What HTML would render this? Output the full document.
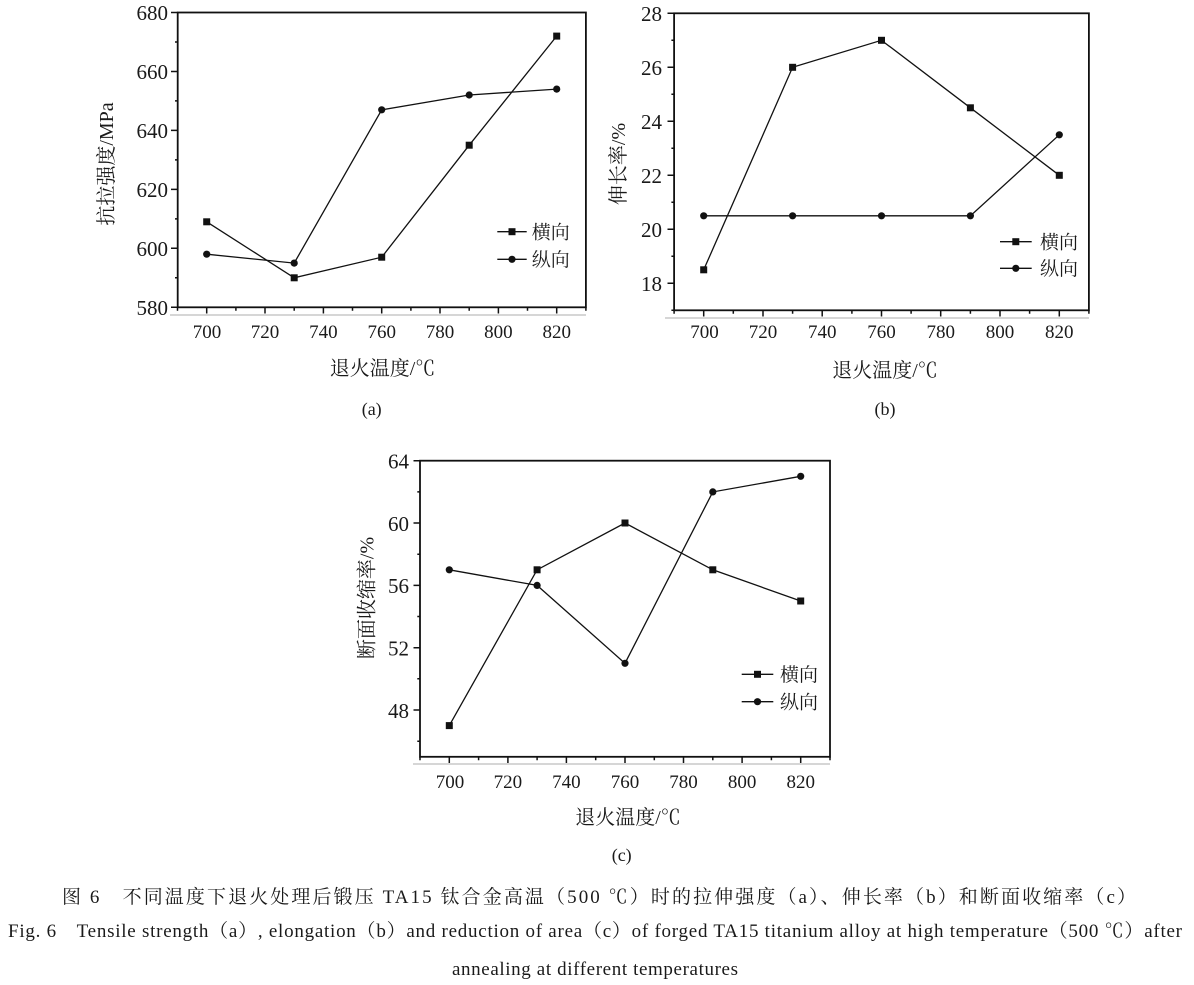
<!DOCTYPE html>
<html><head><meta charset="utf-8">
<style>
html,body{margin:0;padding:0;background:#fff;}
svg{display:block;}
.t{font-family:"Liberation Serif","Noto Serif CJK SC",serif;fill:#1a1a1a;}
.c{font-family:"Liberation Serif","Noto Serif CJK SC",serif;fill:#1a1a1a;}
.ax{fill:none;stroke:#111;stroke-width:1.8;}
.tk{stroke:#111;stroke-width:1.5;}
.ln{fill:none;stroke:#111;stroke-width:1.3;}
.gr{stroke:#bdbdbd;stroke-width:1.2;}
</style></head>
<body>
<svg width="1194" height="985" viewBox="0 0 1194 985" xmlns="http://www.w3.org/2000/svg">
<rect width="1194" height="985" fill="#fff"/>

<!-- ================= PANEL A ================= -->
<line class="gr" x1="170" y1="315" x2="586" y2="315"/>
<rect class="ax" x="177.7" y="12.5" width="408.2" height="294.8"/>
<g class="tk">
<path d="M171 12.5H177.7M171 71.5H177.7M171 130.4H177.7M171 189.4H177.7M171 248.3H177.7M171 307.3H177.7"/>
<path d="M175 42H177.7M175 100.9H177.7M175 159.9H177.7M175 218.9H177.7M175 277.8H177.7"/>
<path d="M206.7 307.3V313.5M265 307.3V313.5M323.4 307.3V313.5M381.7 307.3V313.5M440 307.3V313.5M498.4 307.3V313.5M556.7 307.3V313.5"/>
<path d="M177.5 307.3V310.8M235.9 307.3V310.8M294.2 307.3V310.8M352.5 307.3V310.8M410.9 307.3V310.8M469.2 307.3V310.8M527.5 307.3V310.8M585.9 307.3V310.8"/>
</g>
<g class="t" font-size="21" text-anchor="end">
<text x="168" y="20">680</text>
<text x="168" y="79">660</text>
<text x="168" y="138">640</text>
<text x="168" y="197">620</text>
<text x="168" y="256">600</text>
<text x="168" y="315">580</text>
</g>
<g class="t" font-size="19" text-anchor="middle">
<text x="207" y="338">700</text>
<text x="265" y="338">720</text>
<text x="323.4" y="338">740</text>
<text x="381.7" y="338">760</text>
<text x="440" y="338">780</text>
<text x="498.4" y="338">800</text>
<text x="556.7" y="338">820</text>
</g>
<polyline class="ln" points="206.7,221.8 294.2,277.8 381.7,257.2 469.2,145.2 556.7,36.1"/>
<polyline class="ln" points="206.7,254.2 294.2,263.1 381.7,109.8 469.2,95 556.7,89.1"/>
<g fill="#111">
<rect x="203.2" y="218.3" width="7" height="7"/><rect x="290.7" y="274.3" width="7" height="7"/><rect x="378.2" y="253.7" width="7" height="7"/><rect x="465.7" y="141.7" width="7" height="7"/><rect x="553.2" y="32.6" width="7" height="7"/>
<circle cx="206.7" cy="254.2" r="3.6"/><circle cx="294.2" cy="263.1" r="3.6"/><circle cx="381.7" cy="109.8" r="3.6"/><circle cx="469.2" cy="95" r="3.6"/><circle cx="556.7" cy="89.1" r="3.6"/>
</g>
<!-- legend a -->
<line class="ln" x1="497.3" y1="231.7" x2="526.7" y2="231.7"/>
<rect x="508.5" y="228.2" width="7" height="7" fill="#111"/>
<line class="ln" x1="497.3" y1="259.3" x2="526.7" y2="259.3"/>
<circle cx="512" cy="259.3" r="3.6" fill="#111"/>
<text class="t" font-size="19" x="531.7" y="238.5">横向</text>
<text class="t" font-size="19" x="531.7" y="266">纵向</text>
<text class="t" font-size="20" transform="translate(113,164) rotate(-90)" text-anchor="middle">抗拉强度/MPa</text>
<text class="t" font-size="20" x="382.5" y="375" text-anchor="middle">退火温度/℃</text>
<text class="t" font-size="18" x="371.7" y="415" text-anchor="middle">(a)</text>

<!-- ================= PANEL B ================= -->
<line class="gr" x1="665" y1="318" x2="1089" y2="318"/>
<rect class="ax" x="674.1" y="13.3" width="414.8" height="297"/>
<g class="tk">
<path d="M667.5 13.3H674.1M667.5 67.3H674.1M667.5 121.3H674.1M667.5 175.3H674.1M667.5 229.3H674.1M667.5 283.3H674.1"/>
<path d="M671.4 40.3H674.1M671.4 94.3H674.1M671.4 148.3H674.1M671.4 202.3H674.1M671.4 256.3H674.1M671.4 310.3H674.1"/>
<path d="M703.7 310.3V316.5M763 310.3V316.5M822.2 310.3V316.5M881.5 310.3V316.5M940.7 310.3V316.5M1000 310.3V316.5M1059.3 310.3V316.5"/>
<path d="M674.1 310.3V313.8M733.3 310.3V313.8M792.6 310.3V313.8M851.9 310.3V313.8M911.1 310.3V313.8M970.4 310.3V313.8M1029.6 310.3V313.8M1088.9 310.3V313.8"/>
</g>
<g class="t" font-size="21" text-anchor="end">
<text x="662" y="21">28</text>
<text x="662" y="75">26</text>
<text x="662" y="129">24</text>
<text x="662" y="183">22</text>
<text x="662" y="237">20</text>
<text x="662" y="291">18</text>
</g>
<g class="t" font-size="19" text-anchor="middle">
<text x="704.5" y="338">700</text>
<text x="763" y="338">720</text>
<text x="822.2" y="338">740</text>
<text x="881.5" y="338">760</text>
<text x="940.7" y="338">780</text>
<text x="1000" y="338">800</text>
<text x="1059.3" y="338">820</text>
</g>
<polyline class="ln" points="703.7,269.8 792.6,67.3 881.5,40.3 970.4,107.8 1059.3,175.3"/>
<polyline class="ln" points="703.7,215.8 792.6,215.8 881.5,215.8 970.4,215.8 1059.3,134.8"/>
<g fill="#111">
<rect x="700.2" y="266.3" width="7" height="7"/><rect x="789.1" y="63.8" width="7" height="7"/><rect x="878" y="36.8" width="7" height="7"/><rect x="966.9" y="104.3" width="7" height="7"/><rect x="1055.8" y="171.8" width="7" height="7"/>
<circle cx="703.7" cy="215.8" r="3.6"/><circle cx="792.6" cy="215.8" r="3.6"/><circle cx="881.5" cy="215.8" r="3.6"/><circle cx="970.4" cy="215.8" r="3.6"/><circle cx="1059.3" cy="134.8" r="3.6"/>
</g>
<line class="ln" x1="1000" y1="241.7" x2="1031.7" y2="241.7"/>
<rect x="1012.3" y="238.2" width="7" height="7" fill="#111"/>
<line class="ln" x1="1000" y1="268.3" x2="1031.7" y2="268.3"/>
<circle cx="1015.8" cy="268.3" r="3.6" fill="#111"/>
<text class="t" font-size="19" x="1040" y="248.5">横向</text>
<text class="t" font-size="19" x="1040" y="275">纵向</text>
<text class="t" font-size="20" transform="translate(625,164) rotate(-90)" text-anchor="middle">伸长率/%</text>
<text class="t" font-size="20" x="885" y="377" text-anchor="middle">退火温度/℃</text>
<text class="t" font-size="18" x="885" y="415" text-anchor="middle">(b)</text>

<!-- ================= PANEL C ================= -->
<line class="gr" x1="413" y1="764" x2="830" y2="764"/>
<rect class="ax" x="420" y="460.7" width="410" height="296.1"/>
<g class="tk">
<path d="M413.5 460.7H420M413.5 523H420M413.5 585.4H420M413.5 647.7H420M413.5 710H420"/>
<path d="M417.3 491.9H420M417.3 554.2H420M417.3 616.5H420M417.3 678.8H420M417.3 741.2H420"/>
<path d="M449.3 756.8V763M507.9 756.8V763M566.4 756.8V763M625 756.8V763M683.5 756.8V763M742.1 756.8V763M800.7 756.8V763"/>
<path d="M420 756.8V760.3M478.6 756.8V760.3M537.1 756.8V760.3M595.7 756.8V760.3M654.3 756.8V760.3M712.8 756.8V760.3M771.4 756.8V760.3M830 756.8V760.3"/>
</g>
<g class="t" font-size="21" text-anchor="end">
<text x="409" y="468.5">64</text>
<text x="409" y="531">60</text>
<text x="409" y="593">56</text>
<text x="409" y="655.5">52</text>
<text x="409" y="718">48</text>
</g>
<g class="t" font-size="19" text-anchor="middle">
<text x="450" y="788">700</text>
<text x="507.9" y="788">720</text>
<text x="566.4" y="788">740</text>
<text x="625" y="788">760</text>
<text x="683.5" y="788">780</text>
<text x="742.1" y="788">800</text>
<text x="800.7" y="788">820</text>
</g>
<polyline class="ln" points="449.3,725.6 537.1,569.8 625,523 712.8,569.8 800.7,601"/>
<polyline class="ln" points="449.3,569.8 537.1,585.4 625,663.3 712.8,491.9 800.7,476.3"/>
<g fill="#111">
<rect x="445.8" y="722.1" width="7" height="7"/><rect x="533.6" y="566.3" width="7" height="7"/><rect x="621.5" y="519.5" width="7" height="7"/><rect x="709.3" y="566.3" width="7" height="7"/><rect x="797.2" y="597.5" width="7" height="7"/>
<circle cx="449.3" cy="569.8" r="3.6"/><circle cx="537.1" cy="585.4" r="3.6"/><circle cx="625" cy="663.3" r="3.6"/><circle cx="712.8" cy="491.9" r="3.6"/><circle cx="800.7" cy="476.3" r="3.6"/>
</g>
<line class="ln" x1="741.7" y1="674.3" x2="773.3" y2="674.3"/>
<rect x="754" y="670.8" width="7" height="7" fill="#111"/>
<line class="ln" x1="741.7" y1="701.7" x2="773.3" y2="701.7"/>
<circle cx="757.5" cy="701.7" r="3.6" fill="#111"/>
<text class="t" font-size="19" x="780" y="681">横向</text>
<text class="t" font-size="19" x="780" y="708.5">纵向</text>
<text class="t" font-size="20" transform="translate(373.5,598) rotate(-90)" text-anchor="middle">断面收缩率/%</text>
<text class="t" font-size="20" x="628" y="824" text-anchor="middle">退火温度/℃</text>
<text class="t" font-size="18" x="621.7" y="861" text-anchor="middle">(c)</text>

<!-- ================= CAPTION ================= -->
<text class="c" font-size="19" x="62" y="903" textLength="1074" lengthAdjust="spacing">图 6　不同温度下退火处理后锻压 TA15 钛合金高温（500 ℃）时的拉伸强度（a）、伸长率（b）和断面收缩率（c）</text>
<text class="c" font-size="19" x="8" y="937" textLength="1174" lengthAdjust="spacing">Fig. 6　Tensile strength（a）, elongation（b）and reduction of area（c）of forged TA15 titanium alloy at high temperature（500 ℃）after</text>
<text class="c" font-size="19" x="452" y="975" textLength="286" lengthAdjust="spacing">annealing at different temperatures</text>
</svg>
</body></html>
